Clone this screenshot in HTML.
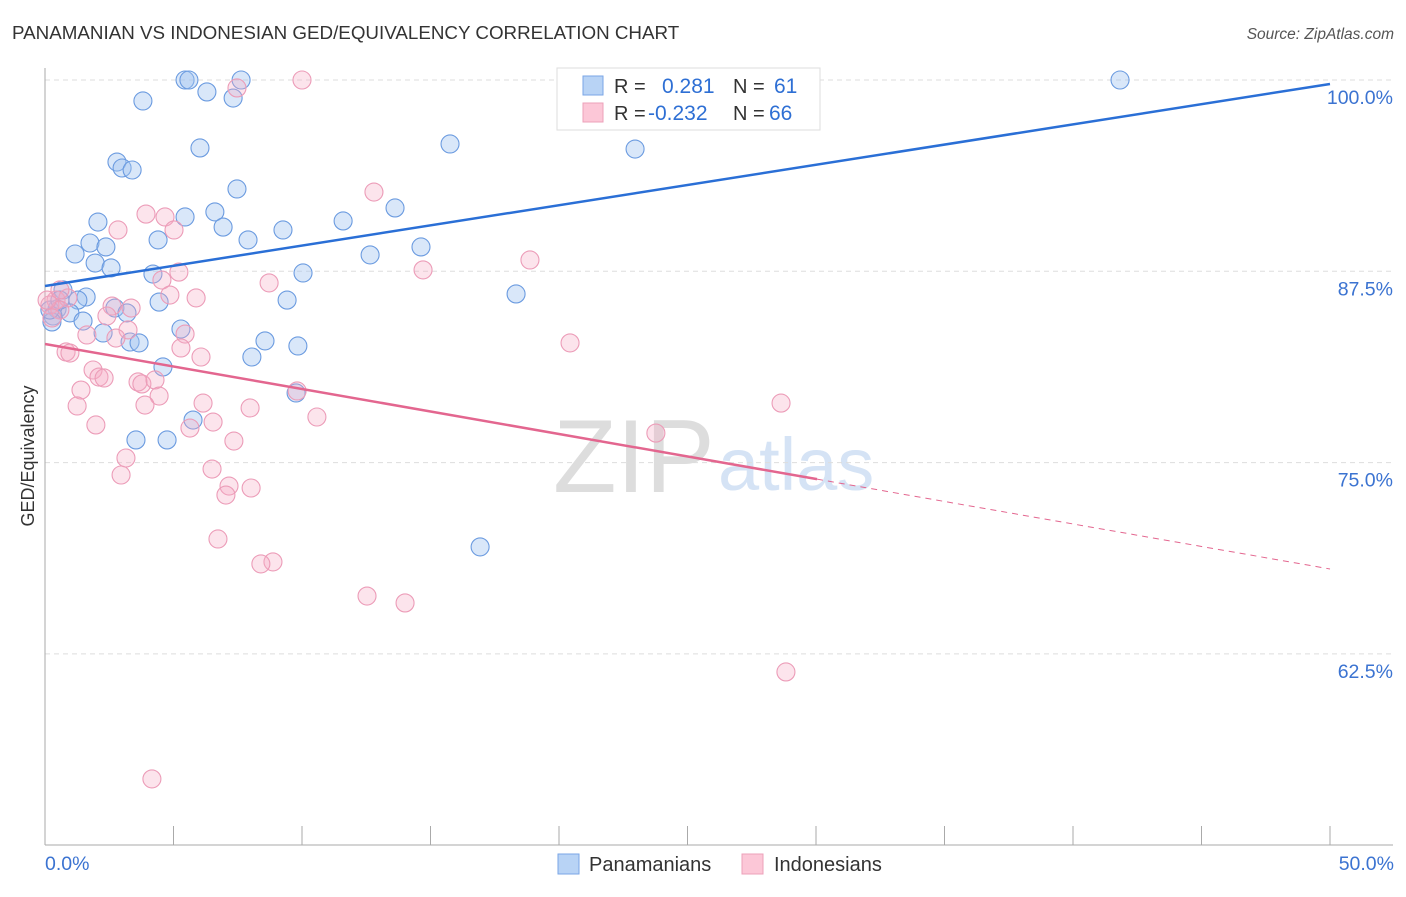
<!DOCTYPE html>
<html><head><meta charset="utf-8"><style>
body{margin:0;background:#fff;font-family:"Liberation Sans",sans-serif;}
svg text{font-family:"Liberation Sans",sans-serif;}
</style></head><body>
<svg id="chart" width="1406" height="892" xmlns="http://www.w3.org/2000/svg">
<text x="12" y="39" font-size="18.8" fill="#333">PANAMANIAN VS INDONESIAN GED/EQUIVALENCY CORRELATION CHART</text>
<text x="1394" y="39" font-size="15.5" fill="#555" text-anchor="end" font-style="italic">Source: ZipAtlas.com</text>
<g>
<text x="553" y="492" font-size="104" font-family="Liberation Serif" fill="#ddd">ZIP</text>
<text x="718" y="490" font-size="74" fill="#d5e3f5">atlas</text>
</g>
<g id="grid"></g>
<g id="axes"></g>
<g id="marks"></g>
<text transform="translate(34,456) rotate(-90)" font-size="18" fill="#333" text-anchor="middle">GED/Equivalency</text>
<g>
<rect x="557" y="68" width="263" height="62" fill="#fff" stroke="#ddd"/>
<rect x="583" y="76" width="20" height="19" fill="#b8d3f5" stroke="#7aa6e6"/>
<rect x="583" y="103" width="20" height="19" fill="#fcc7d7" stroke="#eca0ba"/>
<text x="614" y="93" font-size="20" fill="#333">R =</text>
<text x="662" y="93" font-size="21" fill="#2e6fd4">0.281</text>
<text x="733" y="93" font-size="20" fill="#333">N =</text>
<text x="774" y="93" font-size="21" fill="#2e6fd4">61</text>
<text x="614" y="120" font-size="20" fill="#333">R =</text>
<text x="648" y="120" font-size="21" fill="#2e6fd4">-0.232</text>
<text x="733" y="120" font-size="20" fill="#333">N =</text>
<text x="769" y="120" font-size="21" fill="#2e6fd4">66</text>
</g>
<g>
<rect x="558" y="854" width="21" height="20" fill="#b8d3f5" stroke="#7aa6e6"/>
<text x="589" y="871" font-size="20" fill="#333">Panamanians</text>
<rect x="742" y="854" width="21" height="20" fill="#fcc7d7" stroke="#eca0ba"/>
<text x="774" y="871" font-size="20" fill="#333">Indonesians</text>
</g>
</svg>
<script>
const yTicks=[100,87.5,75,62.5];
const yTickLabels=["100.0%","87.5%","75.0%","62.5%"];
const xTickLabels=["0.0%","50.0%"];
const blueX=[5.45,5.60,7.63,23.15,41.83,3.81,6.30,7.32,6.03,2.80,3.00,3.39,7.47,15.76,22.96,5.45,6.61,2.06,6.93,11.60,13.62,9.26,4.40,7.90,1.75,2.37,1.17,12.65,14.63,1.95,2.57,4.20,10.04,18.33,0.70,1.60,4.44,9.42,1.28,2.72,0.47,0.97,0.31,3.19,1.48,0.27,5.29,2.26,8.56,3.31,3.66,9.84,8.05,4.59,9.77,5.76,3.54,4.75,16.93,0.19,0.58];
const blueY=[100,100,100,100,100,98.63,99.22,98.82,95.56,94.64,94.25,94.12,92.88,95.82,95.49,91.05,91.38,90.72,90.39,90.79,91.64,90.20,89.55,89.55,89.35,89.09,88.63,88.57,89.09,88.04,87.72,87.32,87.39,86.02,86.28,85.82,85.49,85.62,85.62,85.10,85.04,84.78,84.58,84.78,84.25,84.19,83.73,83.47,82.95,82.88,82.82,82.62,81.90,81.25,79.55,77.78,76.48,76.48,69.49,84.97,85.62];
const pinkX=[10.0,7.47,12.80,3.93,4.67,5.02,2.84,18.87,14.71,5.21,8.72,4.55,4.86,5.88,0.43,0.89,2.61,3.35,2.41,0.19,0.58,3.23,5.45,1.63,2.76,20.43,5.29,0.82,0.97,6.07,1.87,2.10,2.30,3.62,3.77,4.28,9.81,1.40,4.44,3.89,6.15,1.25,7.98,28.64,10.58,6.54,5.64,1.98,23.77,7.35,3.15,6.50,2.96,7.16,8.02,7.04,6.73,8.87,8.40,12.53,14.01,28.83,4.16,0.08,0.27,0.58];
const pinkY=[100,99.48,92.68,91.24,91.05,90.20,90.20,88.24,87.59,87.45,86.74,86.93,85.95,85.76,85.62,85.76,85.23,85.10,84.58,85.30,84.97,83.67,83.40,83.34,83.14,82.82,82.49,82.23,82.16,81.90,81.05,80.59,80.53,80.27,80.14,80.40,79.68,79.74,79.35,78.76,78.89,78.70,78.57,78.89,77.98,77.65,77.26,77.46,76.93,76.41,75.30,74.58,74.19,73.47,73.34,72.88,70.01,68.51,68.38,66.28,65.83,61.32,54.33,85.62,84.45,86.28];
const blueTrend=[86.54,99.74];
const pinkTrend=[82.75,68.05];
const pinkSolidEnd=30.04;

const NS="http://www.w3.org/2000/svg";
const X=v=>45+v/50*1285;
const Y=v=>80+(100-v)/12.5*191.3;
function mk(tag,attrs,parent){const e=document.createElementNS(NS,tag);for(const k in attrs)e.setAttribute(k,attrs[k]);parent.appendChild(e);return e;}
const grid=document.getElementById('grid'),axes=document.getElementById('axes'),marks=document.getElementById('marks');
yTicks.forEach((t,i)=>{
 const l=mk('line',{x1:45,x2:1393,y1:Y(t),y2:Y(t),stroke:'#ddd','stroke-dasharray':'5,4'},grid);
 
 
 const tx=mk('text',{x:1393,y:Y(t)+24,'font-size':19.5,fill:'#3b73d1','text-anchor':'end'},axes);
 tx.textContent=yTickLabels[i];
 
 
});
const ya=mk('line',{x1:45,x2:45,y1:68,y2:845,stroke:'#aaa'},axes);


const xa=mk('line',{x1:45,x2:1393,y1:845,y2:845,stroke:'#aaa'},axes);


for(let i=0;i<=10;i++){
 const t=mk('line',{x1:X(i*5),x2:X(i*5),y1:826,y2:845,stroke:'#aaa'},axes);
 
 
}
[0,50].forEach((v,i)=>{
 const t=mk('text',{x:i?1394:45,y:870,'font-size':19.5,fill:'#3b73d1','text-anchor':i?'end':'start'},axes);
 t.textContent=xTickLabels[i];
 
 
});
blueX.forEach((x,i)=>{
 const c=mk('circle',{cx:X(x),cy:Y(blueY[i]),r:9,fill:'rgba(160,195,240,0.4)',stroke:'#6b9be0','stroke-width':1.1},marks);
 
 
});
pinkX.forEach((x,i)=>{
 const c=mk('circle',{cx:X(x),cy:Y(pinkY[i]),r:9,fill:'rgba(245,170,195,0.32)',stroke:'#ec9cb8','stroke-width':1.1},marks);
 
 
});
const bt=mk('line',{x1:X(0),y1:Y(blueTrend[0]),x2:X(50),y2:Y(blueTrend[1]),stroke:'#2a6fd6','stroke-width':2.5},marks);


const pe=pinkTrend[0]+(pinkTrend[1]-pinkTrend[0])*pinkSolidEnd/50;
const pt=mk('line',{x1:X(0),y1:Y(pinkTrend[0]),x2:X(pinkSolidEnd),y2:Y(pe),stroke:'#e3668f','stroke-width':2.5},marks);


const pd=mk('line',{x1:X(pinkSolidEnd),y1:Y(pe),x2:X(50),y2:Y(pinkTrend[1]),stroke:'#e3668f','stroke-width':1,'stroke-dasharray':'6,5'},marks);


</script>
</body></html>
